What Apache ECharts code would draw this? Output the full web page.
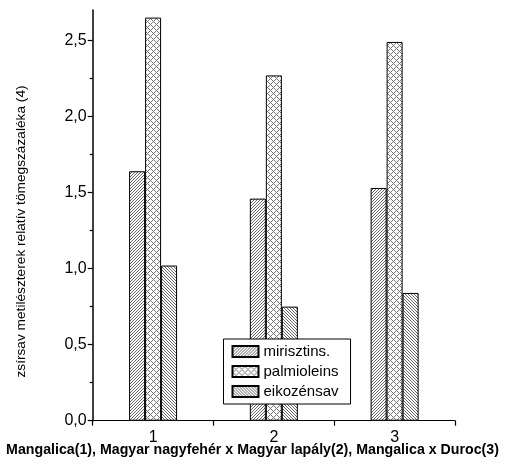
<!DOCTYPE html>
<html>
<head>
<meta charset="utf-8">
<script src="https://cdn.jsdelivr.net/npm/echarts@6/dist/echarts.min.js"></script>
<style>
html, body { margin: 0; padding: 0; background: #fff; }
#chart { width: 506px; height: 466px; }
</style>
</head>
<body>
<div id="chart"></div>
<script>
// data
const categories = ["1", "2", "3"];
const seriesNames = ["mirisztins.", "palmioleins", "eikozénsav"];
const mirisztins = [1.64, 1.46, 1.53];
const palmioleins = [2.65, 2.27, 2.49];
const eikozensav = [1.02, 0.75, 0.84];
const yTicks = [0, 0.5, 1.0, 1.5, 2.0, 2.5];
const yMinorTicks = [0.25, 0.75, 1.25, 1.75, 2.25];

const yTitle = "zsírsav metilészterek relatív tömegszázaléka (4)";
const xTitle = "Mangalica(1), Magyar nagyfehér x Magyar lapály(2), Mangalica x Duroc(3)";

// hatch patterns
function makePattern(size, test, col) {
    const c = document.createElement("canvas");
    c.width = size;
    c.height = size;
    const ctx = c.getContext("2d");
    ctx.fillStyle = "#fff";
    ctx.fillRect(0, 0, size, size);
    ctx.fillStyle = col;
    for (let x = 0; x < size; x++) {
        for (let y = 0; y < size; y++) {
            if (test(x, y)) ctx.fillRect(x, y, 1, 1);
        }
    }
    return { image: c, repeat: "repeat" };
}
const patSlash = makePattern(3, (x, y) => (x + y) % 3 === 0, "#666");
const patCross = makePattern(6, (x, y) => (x + y) % 6 === 0 || (x - y + 6) % 6 === 0, "#777");
const patBack = makePattern(3, (x, y) => (x - y + 3) % 3 === 0, "#666");

const fmt = v => v.toFixed(1).replace(".", ",");

const chart = echarts.init(document.getElementById("chart"));

function bar(name, data, pat) {
    return {
        name: name,
        type: "bar",
        data: data,
        barWidth: 16,
        barGap: "0%",
        itemStyle: {
            color: pat,
            borderColor: "#000",
            borderWidth: 1,
        },
    };
}

const option = {
    animation: false,
    backgroundColor: "#fff",
    grid: {
        left: 92.7,
        right: 51,
        top: 10,
        bottom: 45.3,
    },
    legend: {
        orient: "vertical",
        left: 223.5,
        top: 339,
        padding: [5, 12, 5, 8],
        itemWidth: 26,
        itemHeight: 11,
        itemGap: 5,
        itemTextGap: 5,
        backgroundColor: "#fff",
        borderColor: "#000",
        borderWidth: 1,
        icon: "rect",
        textStyle: {
            fontFamily: "Liberation Sans",
            fontSize: 15,
            color: "#000",
        },
        data: seriesNames,
    },
    xAxis: {
        type: "category",
        data: categories,
        boundaryGap: true,
        axisLine: { lineStyle: { color: "#000", width: 1.2 } },
        axisTick: { show: true, alignWithLabel: false, length: 5, lineStyle: { color: "#000", width: 1.2 } },
        axisLabel: {
            fontFamily: "Liberation Sans",
            fontSize: 16,
            color: "#000",
            margin: 9,
        },
        splitLine: { show: false },
    },
    yAxis: [
        {
            type: "value",
            min: 0,
            max: 2.7,
            interval: 0.5,
            axisLine: { show: true, lineStyle: { color: "#000", width: 1.5 } },
            axisTick: {
                show: true,
                length: 5,
                customValues: yTicks,
                lineStyle: { color: "#000", width: 1.2 },
            },
            axisLabel: {
                customValues: yTicks,
                formatter: fmt,
                fontFamily: "Liberation Sans",
                fontSize: 16,
                color: "#000",
                margin: 6,
            },
            splitLine: { show: false },
        },
        {
            // minor ticks only
            type: "value",
            position: "left",
            min: 0,
            max: 2.7,
            interval: 0.25,
            axisLine: { show: false },
            axisTick: {
                show: true,
                length: 3,
                customValues: yMinorTicks,
                lineStyle: { color: "#000", width: 1.2 },
            },
            axisLabel: { show: false },
            splitLine: { show: false },
        },
    ],
    graphic: [
        {
            type: "text",
            x: 21,
            y: 231.5,
            rotation: Math.PI / 2,
            style: {
                text: yTitle,
                fontFamily: "Liberation Sans",
                fontSize: 13.7,
                fill: "#000",
                align: "center",
                verticalAlign: "middle",
            },
        },
        {
            type: "text",
            x: 252.5,
            y: 450,
            style: {
                text: xTitle,
                fontFamily: "Liberation Sans",
                fontSize: 14.2,
                fontWeight: "bold",
                fill: "#000",
                align: "center",
                verticalAlign: "middle",
            },
        },
    ],
    series: [
        bar(seriesNames[0], mirisztins, patSlash),
        bar(seriesNames[1], palmioleins, patCross),
        bar(seriesNames[2], eikozensav, patBack),
    ],
};

chart.setOption(option);
</script>
</body>
</html>
